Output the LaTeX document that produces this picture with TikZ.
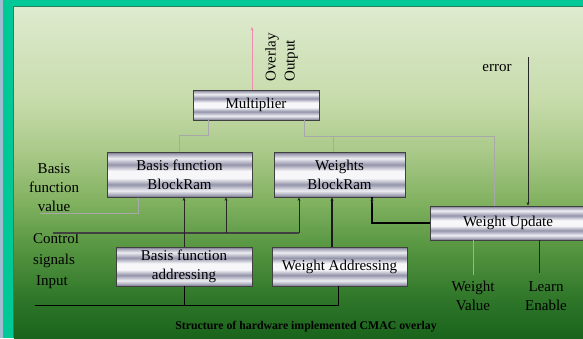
\documentclass[tikz,border=0pt]{standalone}
\usepackage{fontspec}
\setmainfont{Liberation Serif}
\usetikzlibrary{arrows.meta,calc}

% brushed-metal look of the function blocks
\pgfdeclareverticalshading{metal}{100bp}{
 rgb(0bp)=(0.42,0.42,0.50);
 rgb(25bp)=(0.45,0.45,0.54);
 rgb(27.5bp)=(0.66,0.66,0.73);
 rgb(32bp)=(0.93,0.93,0.95);
 rgb(39bp)=(0.58,0.58,0.67);
 rgb(46bp)=(0.97,0.97,0.98);
 rgb(54bp)=(0.97,0.97,0.98);
 rgb(61bp)=(0.58,0.58,0.67);
 rgb(68bp)=(0.93,0.93,0.95);
 rgb(72.5bp)=(0.66,0.66,0.73);
 rgb(75bp)=(0.45,0.45,0.54);
 rgb(100bp)=(0.42,0.42,0.50)}

% green slide background, dark at the bottom, pale at the top
\pgfdeclareverticalshading{panelbg}{100bp}{
 rgb(0bp)=(0.10,0.39,0.11);
 rgb(25bp)=(0.10,0.39,0.11);
 rgb(30.7bp)=(0.18,0.46,0.16);
 rgb(38.3bp)=(0.33,0.58,0.25);
 rgb(45.8bp)=(0.51,0.70,0.38);
 rgb(53.4bp)=(0.67,0.79,0.54);
 rgb(61bp)=(0.78,0.86,0.67);
 rgb(75bp)=(0.87,0.92,0.81);
 rgb(100bp)=(0.87,0.92,0.81)}

\definecolor{frameteal}{RGB}{0,200,150}
\definecolor{frameshadow}{RGB}{40,130,95}
\definecolor{edgeblue}{RGB}{160,190,210}
\definecolor{sigpink}{RGB}{240,140,175}
\definecolor{lightwire}{RGB}{168,168,168}

\begin{document}
\begin{tikzpicture}[x=1pt,y=-1pt,
  font=\fontsize{15}{19}\selectfont,
  box/.style={draw=black!75, line width=0.8pt, shading=metal,
              inner sep=0pt, align=center},
  lbl/.style={inner sep=0pt, align=center},
  arr/.style={-{Stealth[length=3.5pt,width=3pt]}},
  gline/.style={draw=lightwire, line width=0.9pt},
  tline/.style={draw=black!85, line width=0.8pt},
  cline/.style={draw=black!75, line width=1.8pt},
  wline/.style={draw=black, line width=2pt},
  mline/.style={draw=black!90, line width=1.3pt},
  bline/.style={draw=black, line width=1pt},
  pline/.style={draw=sigpink, line width=0.9pt}]

\useasboundingbox (0,0) rectangle (583,338);

% slide frame and background
\fill[edgeblue] (0,0) rectangle (3,338);
\fill[frameteal] (3,0) rectangle (583,7);
\fill[frameteal] (3,0) rectangle (14,338);
\shade[shading=panelbg] (14,7) rectangle (583,338);
\fill[frameshadow] (13,6) rectangle (583,7.2);
\fill[frameshadow] (13,6) rectangle (14.2,338);

% function blocks
\node[box, minimum width=126, minimum height=30] (mult) at (256,105) {Multiplier};
\node[box, minimum width=145, minimum height=45] (bbr) at (179.5,174.5) {Basis function\\BlockRam};
\node[box, minimum width=131, minimum height=45] (wbr) at (339.5,174.5) {Weights\\BlockRam};
\node[box, minimum width=156, minimum height=34] (wu) at (508,223) {Weight Update};
\node[box, minimum width=136, minimum height=39] (bfa) at (184,266.5) {Basis function\\addressing};
\node[box, minimum width=135, minimum height=39] (wa) at (339.5,266.5) {Weight Addressing};

% signal labels
\node[lbl, rotate=90, anchor=west, align=left] (ovl) at (281.5,82) {Overlay\\Output};
\node[lbl] (err) at (497,68) {error};
\node[lbl] (bfv) at (54,188) {Basis\\function\\value};
\node[lbl, align=left, anchor=west, font=\fontsize{15}{21}\selectfont] (csi) at (33,260.5)
  {Control\\signals\\\hspace*{3pt}Input};
\node[lbl, font=\fontsize{15}{18.5}\selectfont] (wv) at (473,296) {Weight\\Value};
\node[lbl, font=\fontsize{15}{18.5}\selectfont] (le) at (546,296) {Learn\\Enable};
\node[lbl, font=\bfseries\fontsize{11.8}{14}\selectfont] (cap) at (306,327)
  {Structure of hardware implemented CMAC overlay};

% bend points
\coordinate (o1) at (252,27);
\coordinate (m1) at (208,135);
\coordinate (m2) at (179,135);
\coordinate (m3) at (304,136);
\coordinate (m4) at (494,136);
\coordinate (m5) at (333,136);
\coordinate (e0) at (528,57);
\coordinate (v0) at (40,213);
\coordinate (v1) at (138,213);
\coordinate (c0) at (53,233);
\coordinate (c1) at (299,233);
\coordinate (c2) at (226,233);
\coordinate (b0) at (35,305);
\coordinate (b1) at (338,305);
\coordinate (le1) at ($(le.north)+(-7,-9)$);
\coordinate (wv1) at ($(wv.north)+(0,-6)$);

% overlay output
\draw[pline, arr] (mult.north -| o1) -- (o1);

% multiplier inputs
\draw[gline] (mult.south -| m1) -- (m1) -- (m2) -- (bbr.north -| m2);
\draw[gline] (mult.south -| m3) -- (m3) -- (m4) -- (wu.north -| m4);
\draw[gline] (m5) -- (wbr.north -| m5);

% basis function value
\draw[gline, arr] (v0) -- (v1) -- (bbr.south -| v1);

% control bus
\draw[cline] (c0) -- (c1);
\draw[tline, arr] (c1) -- (wbr.south -| c1);
\draw[tline, arr] (c2) -- (bbr.south -| c2);

% addressing into the block RAMs
\draw[tline, arr] (bfa.north) -- (bbr.south -| bfa.north);
\draw[mline, arr] ($(wa.north)+(-7.5,0)$) -- ($(wbr.south)+(-7.5,0)$);

% weight update path
\draw[wline] (wu.west) -| ($(wbr.south)+(32.5,0)$);
\draw[tline, arr] ($(wbr.south)+(32.5,6)$) -- ($(wbr.south)+(32.5,0)$);
\draw[tline, arr] (e0) -- (wu.north -| e0);
\draw[gline] (wu.south -| wv1) -- (wv1);
\draw[tline] (wu.south -| le1) -- (le1);

% input bus
\draw[bline] (b0) -- (b1) -- (wa.south -| b1);
\draw[bline] (bfa.south) -- (bfa.south |- b0);

\end{tikzpicture}
\end{document}
